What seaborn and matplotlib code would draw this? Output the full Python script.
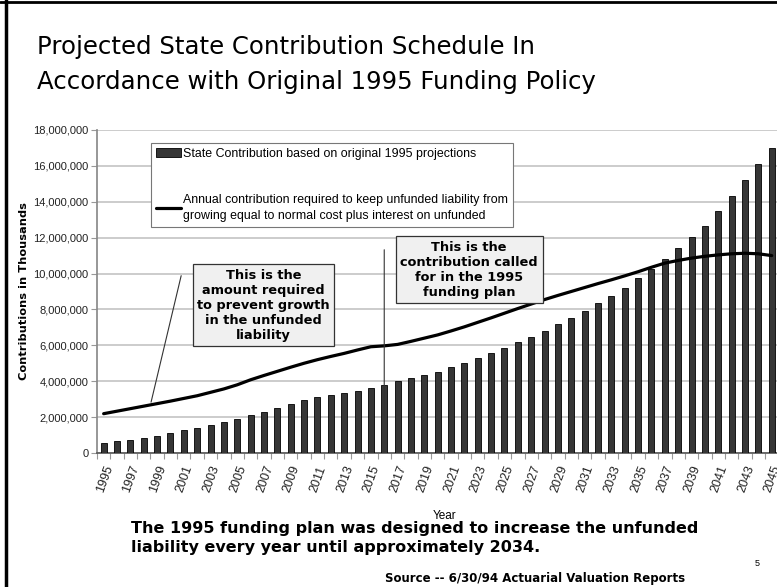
import numpy as np
import pandas as pd
import matplotlib
matplotlib.use('Agg')
import matplotlib.pyplot as plt
from matplotlib.patches import Patch
from matplotlib.lines import Line2D
from matplotlib.ticker import FuncFormatter, FixedLocator
import seaborn as sns

# Dados (milhares)
anos = list(range(1995, 2046))
contrib_estado = [
    0.56, 0.65, 0.74, 0.83, 0.96, 1.11, 1.26, 1.39, 1.56, 1.74,
    1.91, 2.10, 2.28, 2.50, 2.75, 2.97, 3.10, 3.23, 3.34, 3.45,
    3.64, 3.81, 3.99, 4.16, 4.34, 4.51, 4.81, 5.03, 5.29, 5.58,
    5.86, 6.16, 6.46, 6.81, 7.16, 7.51, 7.92, 8.35, 8.76, 9.22,
    9.76, 10.24, 10.82, 11.43, 12.04, 12.65, 13.49, 14.30, 15.19, 16.10,
    17.01]
contrib_necessaria = [
    2.19, 2.33, 2.47, 2.61, 2.75, 2.89, 3.04, 3.19, 3.38, 3.57,
    3.80, 4.08, 4.32, 4.55, 4.78, 5.00, 5.20, 5.38, 5.55, 5.74,
    5.92, 5.97, 6.05, 6.22, 6.40, 6.58, 6.80, 7.03, 7.28, 7.53,
    7.79, 8.05, 8.30, 8.55, 8.78, 9.00, 9.22, 9.44, 9.65, 9.87,
    10.10, 10.35, 10.58, 10.73, 10.86, 10.96, 11.04, 11.10, 11.13, 11.10,
    11.00]

df = pd.DataFrame({
    'Ano': anos,
    'Estado': np.array(contrib_estado) * 1e6,
    'Necessaria': np.array(contrib_necessaria) * 1e6,
})

sns.set_theme(style="white")
plt.rcParams['font.family'] = ['DejaVu Sans']
plt.rcParams['text.color'] = 'black'
plt.rcParams['axes.labelcolor'] = 'black'
plt.rcParams['xtick.color'] = '#222222'
plt.rcParams['ytick.color'] = '#222222'
arial = 'Liberation Sans'

fig = plt.figure(figsize=(7.77, 5.87), dpi=100)
ax = fig.add_axes([0.1248, 0.2283, 0.877, 0.5503])

sns.barplot(data=df, x='Ano', y='Estado', native_scale=True, width=0.45,
            color='#363636', edgecolor='black', linewidth=0.6, saturation=1, ax=ax, zorder=3)
sns.lineplot(data=df, x='Ano', y='Necessaria', color='black', lw=2.3, ax=ax, zorder=4)

ax.set_xlim(1994.5, 2045.5)
ax.set_ylim(0, 18e6)
ax.set_yticks(np.arange(0, 18e6 + 1, 2e6))
ax.yaxis.set_major_formatter(FuncFormatter(lambda v, p: f"{int(v):,}"))
ax.grid(axis='y', color='#c4c4c4', lw=1.2, zorder=0)
ax.grid(axis='x', visible=False)

# rótulos nos anos ímpares, marcas nas divisões
ax.xaxis.set_major_locator(FixedLocator(anos[::2]))
ax.set_xticklabels([str(a) for a in anos[::2]], rotation=70, ha='right',
                   rotation_mode='anchor', fontsize=9, family=arial)
ax.xaxis.set_minor_locator(FixedLocator(np.arange(1994.5, 2046, 1)))
ax.tick_params(axis='x', which='major', length=0, pad=8)
ax.tick_params(axis='x', which='minor', length=4, color='#999999', width=0.8, bottom=True)
ax.tick_params(axis='y', length=4, color='#999999', width=0.8, left=True, pad=2)
for lbl in ax.get_yticklabels():
    lbl.set_family(arial)
    lbl.set_fontsize(8)

for s in ['top', 'right']:
    ax.spines[s].set_visible(False)
ax.spines['left'].set_color('#8a8a8a')
ax.spines['bottom'].set_color('#555555')
ax.spines['bottom'].set_linewidth(1.2)

ax.set_xlabel('Year', family=arial, fontsize=8.5)
ax.xaxis.set_label_coords(0.51, -0.176)
ax.set_ylabel('Contributions in Thousands', fontsize=8.2, fontweight='bold')
ax.yaxis.set_label_coords(-0.1, 0.5)

handles = [Patch(facecolor='#363636', edgecolor='black', lw=0.6),
           Line2D([0], [0], color='black', lw=2.3)]
labels = ['State Contribution based on original 1995 projections',
          'Annual contribution required to keep unfunded liability from\n'
          'growing equal to normal cost plus interest on unfunded']
leg = ax.legend(handles, labels, loc='upper left', bbox_to_anchor=(0.08, 0.96),
                borderaxespad=0, frameon=True, fancybox=False, edgecolor='#777777',
                framealpha=1, prop={'family': arial, 'size': 8.9}, labelspacing=2.75,
                handlelength=2.0, handletextpad=0.15, borderpad=0.4)
for t in leg.get_texts():
    t.set_linespacing(1.45)
leg.get_frame().set_linewidth(0.8)
leg.set_zorder(6)

caixa = dict(boxstyle='square,pad=0.35', facecolor='#f0f0f0', edgecolor='#333333', lw=0.9)
ax.annotate('', xy=(1998.5, 2.68e6), xytext=(2000.85, 10.03e6),
            arrowprops=dict(arrowstyle='-', color='#333333', lw=0.8), zorder=5)
ax.text(2006.96, 8.22e6, 'This is the\namount required\nto prevent growth\nin the unfunded\nliability',
        ha='center', va='center', fontsize=9.3, fontweight='bold', bbox=caixa, zorder=7)
ax.annotate('', xy=(2016, 1.84e6), xytext=(2016, 11.48e6),
            arrowprops=dict(arrowstyle='-', color='#333333', lw=0.8), zorder=5)
ax.text(2022.36, 10.2e6, 'This is the\ncontribution called\nfor in the 1995\nfunding plan',
        ha='center', va='center', fontsize=9.3, fontweight='bold', bbox=caixa, zorder=7)

# título e textos do slide
fig.text(0.047, 1 - 54 / 587, 'Projected State Contribution Schedule In', fontsize=17.6, va='baseline')
fig.text(0.047, 1 - 89 / 587, 'Accordance with Original 1995 Funding Policy', fontsize=17.6, va='baseline')
fig.text(131 / 777, 1 - 533 / 587, 'The 1995 funding plan was designed to increase the unfunded',
         fontsize=11.5, fontweight='bold', va='baseline')
fig.text(131 / 777, 1 - 552 / 587, 'liability every year until approximately 2034.',
         fontsize=11.5, fontweight='bold', va='baseline')
fig.text(535 / 777, 1 - 582 / 587, 'Source -- 6/30/94 Actuarial Valuation Reports',
         fontsize=8.5, fontweight='bold', ha='center', va='baseline')
fig.text(757 / 777, 1 - 566 / 587, '5', fontsize=6.5, ha='center', va='baseline', family=arial)

# moldura do slide
fig.add_artist(Line2D([6 / 777, 6 / 777], [0, 1], color='black', lw=2.5, transform=fig.transFigure))
fig.add_artist(Line2D([0, 1], [1 - 2 / 587, 1 - 2 / 587], color='black', lw=2, transform=fig.transFigure))

plt.savefig('out.png', dpi=100)
